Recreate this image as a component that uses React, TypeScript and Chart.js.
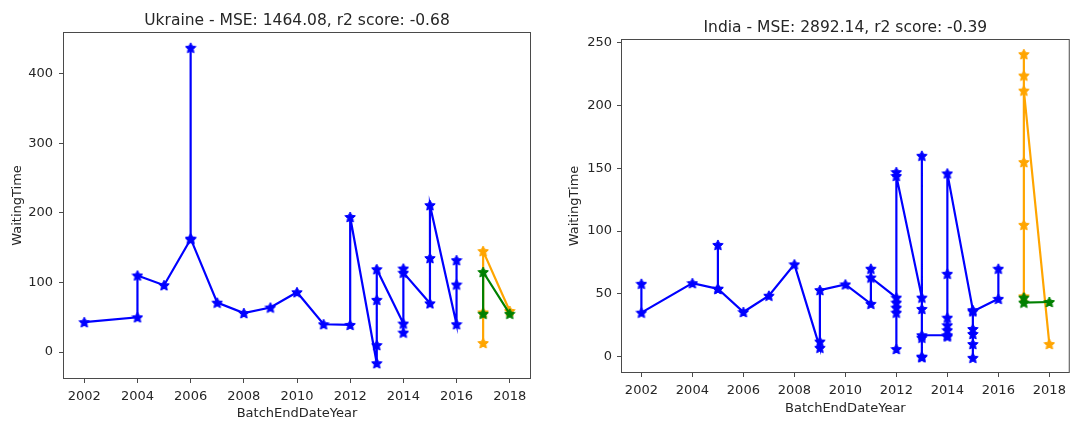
import React, { useEffect, useRef } from "react";
import { Chart, registerables } from "chart.js";

Chart.register(...registerables);

// ---------- Data ----------
const yearTicks = [2002, 2004, 2006, 2008, 2010, 2012, 2014, 2016, 2018];
const ukraineWaitTicks = [0, 100, 200, 300, 400];
const indiaWaitTicks = [0, 50, 100, 150, 200, 250];

const ukraineYears = [2002, 2004, 2004, 2005, 2006, 2006, 2006, 2007, 2008, 2009, 2010, 2011, 2012, 2012, 2013, 2013, 2013, 2013, 2014, 2014, 2014, 2014, 2015, 2015, 2015, 2016, 2016, 2016];
const ukraineWaiting = [43, 50, 110, 96, 162, 437, 163, 71, 56, 64, 86, 40, 39, 194, -16, 10, 75, 119, 41, 28, 120, 114, 70, 135, 211, 40, 97, 132];
const ukraineTestYears = [2017, 2017, 2017, 2018];
const ukraineTest = [13, 57, 145, 59];
const ukrainePredYears = [2017, 2017, 2018];
const ukrainePred = [55, 115, 55];

const indiaYears = [
  2002, 2002, 2004, 2005, 2005, 2005, 2006, 2007, 2008, 2009, 2009, 2009, 2010, 2011, 2011, 2011,
  2012, 2012, 2012, 2012, 2012, 2012, 2012,
  2013, 2013, 2013, 2013, 2013, 2013, 2013,
  2014, 2014, 2014, 2014, 2014, 2014, 2014,
  2015, 2015, 2015, 2015, 2015, 2015,
  2016, 2016,
];
const indiaWaiting = [
  58, 35, 58.5, 54, 89, 54, 35.5, 48.5, 73.5, 7, 12, 53, 57.5, 42, 70, 63,
  47, 43, 39, 35, 6, 147, 144,
  47, 38, 160, 0, -0.5, 15, 17,
  17, 16, 21, 25, 31, 66, 146,
  37, 22, 18, 10, -1, 36,
  46, 70,
];
const indiaTestYears = [2017, 2017, 2017, 2017, 2017, 2017, 2018];
const indiaTest = [48, 105, 155, 241, 224, 212, 10];
const indiaPredYears = [2017, 2017, 2018];
const indiaPred = [47, 43, 43.5];

// ---------- Helpers ----------
const FONT = "'DejaVu Sans', sans-serif";
const TEXT = "#262626";
const SPINE = "#4a4a4a";

function zip(xs: number[], ys: number[]) {
  return xs.map((x, i) => ({ x, y: ys[i] }));
}

function makeStar(color: string, size = 12) {
  const c = document.createElement("canvas");
  c.width = size;
  c.height = size;
  const ctx = c.getContext("2d")!;
  const cx = size / 2, cy = size / 2 + 0.5;
  const R = size / 2 - 0.5, r = R * 0.5;
  ctx.beginPath();
  for (let i = 0; i < 10; i++) {
    const rad = i % 2 === 0 ? R : r;
    const a = -Math.PI / 2 + (i * Math.PI) / 5;
    const px = cx + rad * Math.cos(a), py = cy + rad * Math.sin(a);
    if (i === 0) ctx.moveTo(px, py); else ctx.lineTo(px, py);
  }
  ctx.closePath();
  ctx.fillStyle = color;
  ctx.fill();
  ctx.strokeStyle = color;
  ctx.lineWidth = 1;
  ctx.stroke();
  return c;
}

const framePlugin = {
  id: "frame",
  afterDatasetsDraw(chart: any) {
    const { ctx, chartArea } = chart;
    const { left, top, right, bottom } = chartArea;
    ctx.save();
    ctx.strokeStyle = SPINE;
    ctx.lineWidth = 1;
    ctx.strokeRect(left + 0.5, top + 0.5, right - left - 1, bottom - top - 1);
    ctx.restore();
  },
};

type Layout = {
  W: number; H: number;
  areaLeft: number; areaRight: number; areaTop: number; areaBottom: number;
  titlePadTop: number; yTitlePad: number; xTitlePad: number; xTickPad: number; yTickPad: number;
};

function buildConfig(
  title: string,
  yTicks: number[],
  series: { xs: number[]; ys: number[]; color: string; order: number }[],
  L: Layout
) {
  const allY = series.flatMap((s) => s.ys);
  const allX = series.flatMap((s) => s.xs);
  const yMin = Math.min(...allY), yMax = Math.max(...allY);
  const xMin = Math.min(...allX), xMax = Math.max(...allX);
  const yM = (yMax - yMin) * 0.05, xM = (xMax - xMin) * 0.05;

  const titleLH = 18.6;
  const titlePadBottom = L.areaTop - L.titlePadTop - titleLH;

  return {
    type: "line" as const,
    data: {
      datasets: series.map((s) => ({
        data: zip(s.xs, s.ys),
        borderColor: s.color,
        backgroundColor: s.color,
        borderWidth: 2.2,
        pointStyle: makeStar(s.color),
        pointRadius: 5,
        fill: false,
        tension: 0,
        order: s.order,
      })),
    },
    options: {
      animation: false,
      responsive: false,
      devicePixelRatio: 1,
      events: [],
      layout: { autoPadding: false, padding: { left: 0, top: 0, bottom: 0, right: L.W - L.areaRight } },
      plugins: {
        legend: { display: false },
        tooltip: { enabled: false },
        title: {
          display: true,
          text: title,
          fullSize: false,
          color: TEXT,
          font: { family: FONT, size: 15.5, weight: "normal", lineHeight: 1.2 },
          padding: { top: L.titlePadTop, bottom: titlePadBottom },
        },
      },
      scales: {
        x: {
          type: "linear",
          min: xMin - xM,
          max: xMax + xM,
          afterFit: (s: any) => { s.height = L.H - L.areaBottom; },
          afterBuildTicks: (s: any) => { s.ticks = yearTicks.map((v) => ({ value: v })); },
          ticks: {
            callback: (v: any) => String(v),
            color: TEXT,
            font: { family: FONT, size: 13 },
            padding: L.xTickPad,
            maxRotation: 0,
            autoSkip: false,
          },
          grid: { drawOnChartArea: false, tickLength: 4, color: SPINE },
          border: { display: false },
          title: {
            display: true,
            text: "BatchEndDateYear",
            color: TEXT,
            font: { family: FONT, size: 13, lineHeight: 1.2 },
            padding: { top: 0, bottom: L.xTitlePad },
          },
        },
        y: {
          type: "linear",
          min: yMin - yM,
          max: yMax + yM,
          afterFit: (s: any) => { s.width = L.areaLeft; },
          afterBuildTicks: (s: any) => { s.ticks = yTicks.map((v) => ({ value: v })); },
          ticks: {
            callback: (v: any) => String(v),
            color: TEXT,
            font: { family: FONT, size: 13 },
            padding: L.yTickPad,
            autoSkip: false,
          },
          grid: { drawOnChartArea: false, tickLength: 4, color: SPINE },
          border: { display: false },
          title: {
            display: true,
            text: "WaitingTime",
            color: TEXT,
            font: { family: FONT, size: 13, lineHeight: 1.2 },
            padding: { top: L.yTitlePad, bottom: 0 },
          },
        },
      },
    },
    plugins: [framePlugin],
  };
}

function ChartCanvas({ left, L, make }: { left: number; L: Layout; make: () => any }) {
  const ref = useRef<HTMLCanvasElement>(null);
  useEffect(() => {
    const chart = new Chart(ref.current!, make());
    return () => chart.destroy();
  }, []);
  return (
    <canvas
      ref={ref}
      width={L.W}
      height={L.H}
      style={{ position: "absolute", left, top: 0, width: L.W, height: L.H }}
    />
  );
}

const leftLayout: Layout = {
  W: 545, H: 421,
  areaLeft: 63, areaRight: 531, areaTop: 32, areaBottom: 379,
  titlePadTop: 11.5, yTitlePad: 10, xTitlePad: 0, xTickPad: 6, yTickPad: 6,
};

const rightLayout: Layout = {
  W: 517, H: 421,
  areaLeft: 66, areaRight: 516, areaTop: 39, areaBottom: 373,
  titlePadTop: 18.5, yTitlePad: 12, xTitlePad: 4.5, xTickPad: 6, yTickPad: 5,
};

export default function App() {
  return (
    <div style={{ position: "fixed", left: 0, top: 0, width: 1072, height: 421, overflow: "hidden", background: "#fff" }}>
      <ChartCanvas
        left={0}
        L={leftLayout}
        make={() =>
          buildConfig("Ukraine - MSE: 1464.08, r2 score: -0.68", ukraineWaitTicks, [
            { xs: ukraineYears, ys: ukraineWaiting, color: "#0000ff", order: 2 },
            { xs: ukraineTestYears, ys: ukraineTest, color: "#ffa500", order: 1 },
            { xs: ukrainePredYears, ys: ukrainePred, color: "#008000", order: 0 },
          ], leftLayout)
        }
      />
      <ChartCanvas
        left={555}
        L={rightLayout}
        make={() =>
          buildConfig("India - MSE: 2892.14, r2 score: -0.39", indiaWaitTicks, [
            { xs: indiaYears, ys: indiaWaiting, color: "#0000ff", order: 2 },
            { xs: indiaTestYears, ys: indiaTest, color: "#ffa500", order: 1 },
            { xs: indiaPredYears, ys: indiaPred, color: "#008000", order: 0 },
          ], rightLayout)
        }
      />
    </div>
  );
}
